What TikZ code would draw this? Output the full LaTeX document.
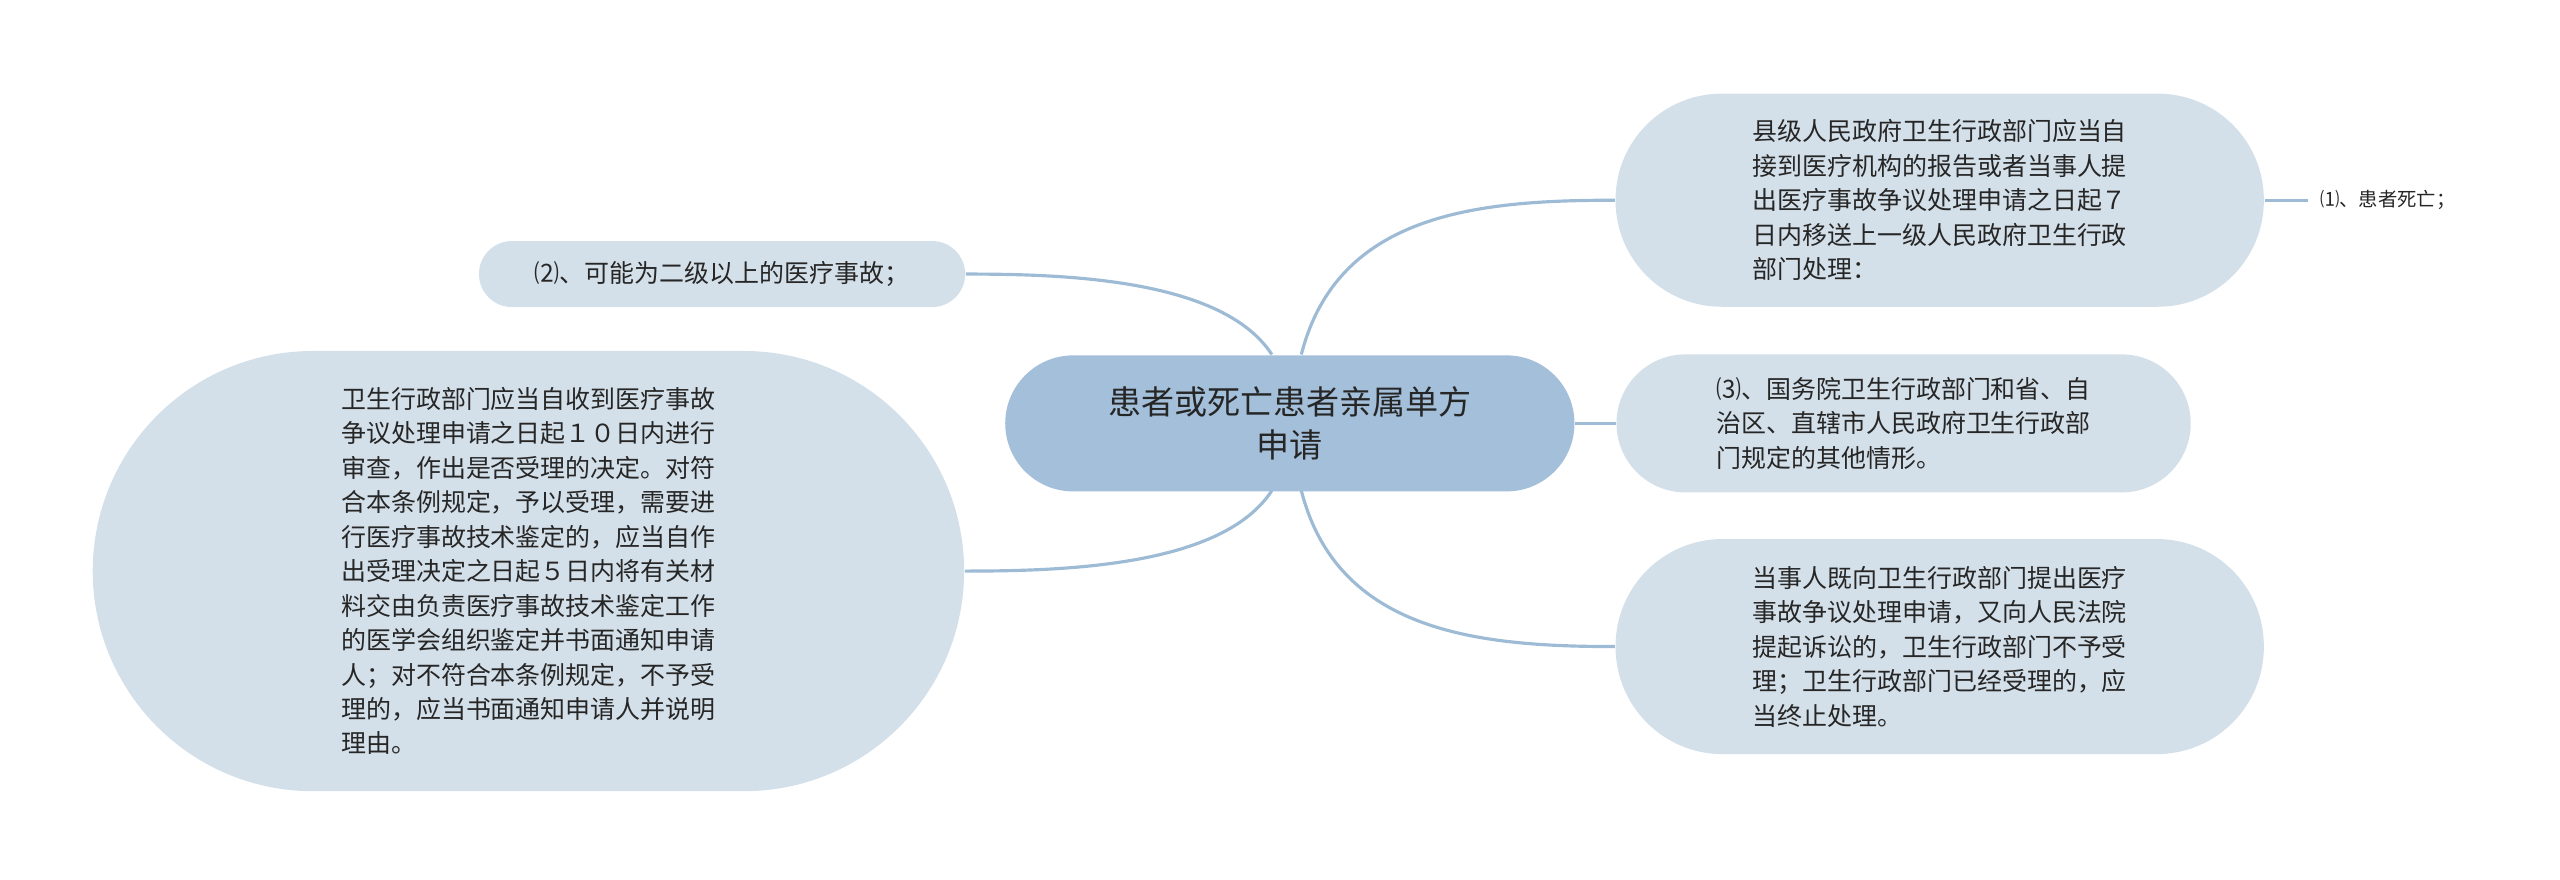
\documentclass[tikz,border=0pt]{standalone}
\usepackage{fontspec}
\setmainfont{Noto Sans CJK SC}
\definecolor{leaf}{HTML}{D4E0E9}
\definecolor{root}{HTML}{A3BFDA}
\definecolor{link}{HTML}{9DBBD5}
\tikzset{
  leafbox/.style={fill=leaf, align=left, font=\fontsize{7.1pt}{9.8pt}\selectfont, text=black!85},
  rootbox/.style={fill=root, align=center, rounded corners=0.68cm, minimum width=5.69cm, minimum height=1.36cm, font=\fontsize{9.4pt}{12pt}\selectfont, text=black!85},
  conn/.style={draw=link, line width=0.9pt}
}
\begin{document}
\begin{tikzpicture}[x=0.01641cm, y=-0.01641cm]
  \useasboundingbox (0,0) rectangle (1560,536);
  \node (ctr) [rootbox] at (786,258) {患者或死亡患者亲属单方\\申请};

  \node (tr) [leafbox, rounded corners=1.06cm, minimum width=6.48cm, minimum height=2.13cm] at (1182,122)
    {县级人民政府卫生行政部门应当自\\接到医疗机构的报告或者当事人提\\出医疗事故争议处理申请之日起７\\日内移送上一级人民政府卫生行政\\部门处理：};
  \node (dead) [font=\fontsize{5.5pt}{7pt}\selectfont, text=black!85] at (1455,122) {⑴、患者死亡；};
  \node (rm) [leafbox, rounded corners=0.69cm, minimum width=5.74cm, minimum height=1.38cm] at (1160,258)
    {⑶、国务院卫生行政部门和省、自\\治区、直辖市人民政府卫生行政部\\门规定的其他情形。};
  \node (rb) [leafbox, rounded corners=1.07cm, minimum width=6.48cm, minimum height=2.15cm] at (1182,394)
    {当事人既向卫生行政部门提出医疗\\事故争议处理申请，又向人民法院\\提起诉讼的，卫生行政部门不予受\\理；卫生行政部门已经受理的，应\\当终止处理。};
  \node (lt) [leafbox, rounded corners=0.33cm, minimum width=4.86cm, minimum height=0.66cm] at (440,167)
    {⑵、可能为二级以上的医疗事故；};
  \node (lb) [leafbox, rounded corners=2.2cm, minimum width=8.71cm, minimum height=4.4cm] at (322,348)
    {卫生行政部门应当自收到医疗事故\\争议处理申请之日起１０日内进行\\审查，作出是否受理的决定。对符\\合本条例规定，予以受理，需要进\\行医疗事故技术鉴定的，应当自作\\出受理决定之日起５日内将有关材\\料交由负责医疗事故技术鉴定工作\\的医学会组织鉴定并书面通知申请\\人；对不符合本条例规定，不予受\\理的，应当书面通知申请人并说明\\理由。};

  \coordinate (cl1) at (775,216);
  \coordinate (cl2) at (775,299);
  \coordinate (cr1) at (793,216);
  \coordinate (cr2) at (793,299);
  \draw[conn] (cl1) .. controls (745,170) and (650,167) .. (lt.east);
  \draw[conn] (cl2) .. controls (745,345) and (650,348) .. (lb.east);
  \draw[conn] (cr1) .. controls (815,130) and (900,122) .. (tr.west);
  \draw[conn] (cr2) .. controls (815,385) and (900,394) .. (rb.west);
  \draw[conn] (ctr.east) -- (rm.west);
  \draw[conn] (tr.east) -- (dead.west);
\end{tikzpicture}
\end{document}
